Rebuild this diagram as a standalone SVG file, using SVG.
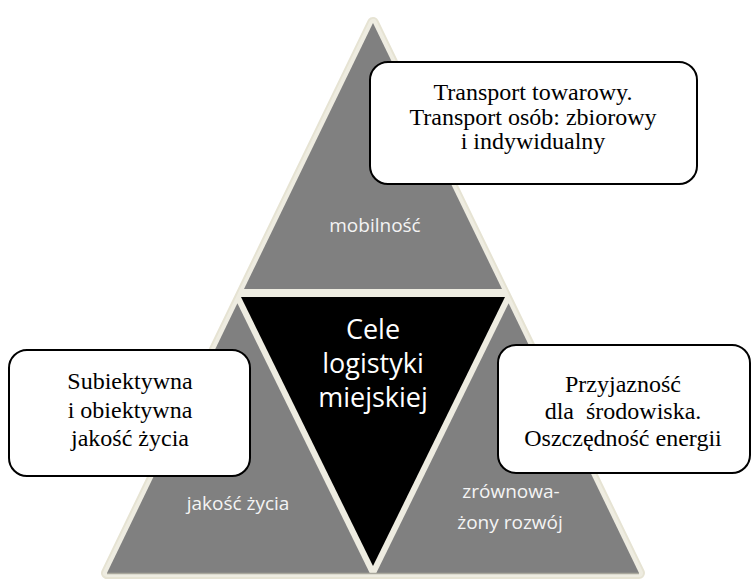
<svg xmlns="http://www.w3.org/2000/svg" width="752" height="580" viewBox="0 0 752 580">
<style>
.box{fill:#ffffff;stroke:#000000;stroke-width:2}
.bt{font-family:"Liberation Serif","Times New Roman",serif;font-size:24px;fill:#000000;text-anchor:middle}
.lbl{font-family:"Open Sans","Noto Sans",sans-serif;font-size:19px;fill:#f4f4f4;text-anchor:middle}
.big{font-family:"Open Sans","Noto Sans",sans-serif;font-size:27px;fill:#ffffff;text-anchor:middle}
.gray{fill:#808080}
</style>
<rect width="752" height="580" fill="#ffffff"/>
<g id="pyramid">
<polygon points="373,23 107,573 639,573" fill="#eeece1" stroke="#e6e3d3" stroke-width="12" stroke-linejoin="round"/>
<polygon points="373,23 107,573 639,573" fill="#eeece1" stroke="#eeece1" stroke-width="8" stroke-linejoin="round"/>
</g>
<g id="mobilnosc">
<polygon class="gray" points="373,23 244,289 502,289"/>
<text class="lbl" x="375" y="232">mobilność</text>
</g>
<g id="jakosc">
<polygon class="gray" points="237.4,303.3 107,573 369.7,573"/>
<text class="lbl" x="238" y="510">jakość życia</text>
</g>
<g id="rozwoj">
<polygon class="gray" points="508.6,303.3 376.3,573 639,573"/>
<text class="lbl" x="511" y="498">zrównowa-</text>
<text class="lbl" x="510" y="529">żony rozwój</text>
</g>
<line x1="107" y1="573.5" x2="639" y2="573.5" stroke="#a9a79c" stroke-width="1.5"/>
<g id="cele">
<polygon fill="#000000" points="241,297 505,297 373,566"/>
<text class="big" x="373" y="339">Cele</text>
<text class="big" x="373" y="373">logistyki</text>
<text class="big" x="373" y="407">miejskiej</text>
</g>
<g id="box-top">
<rect class="box" x="370" y="62" width="327" height="122" rx="18"/>
<text class="bt" x="533" y="100">Transport towarowy.</text>
<text class="bt" x="533" y="124.5">Transport osób: zbiorowy</text>
<text class="bt" x="533" y="149">i indywidualny</text>
</g>
<g id="box-left">
<rect class="box" x="9" y="350" width="241" height="126" rx="18"/>
<text class="bt" x="130" y="389">Subiektywna</text>
<text class="bt" x="130" y="418">i obiektywna</text>
<text class="bt" x="130" y="446">jakość życia</text>
</g>
<g id="box-right">
<rect class="box" x="498" y="345" width="252" height="128" rx="18"/>
<text class="bt" x="623" y="391.5" xml:space="preserve">Przyjazność</text>
<text class="bt" x="623" y="418.5" xml:space="preserve">dla  środowiska.</text>
<text class="bt" x="623" y="445.5">Oszczędność energii</text>
</g>
</svg>
